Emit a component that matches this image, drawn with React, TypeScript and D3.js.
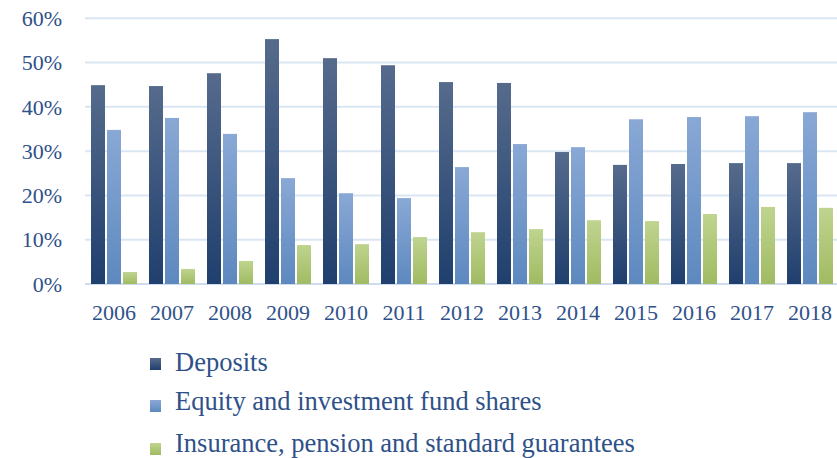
import React from "react";
import * as d3 from "d3";

const years = ["2006","2007","2008","2009","2010","2011","2012","2013","2014","2015","2016","2017","2018"];
const deposits = [44.9,44.7,47.6,55.3,51.0,49.4,45.6,45.4,29.8,26.9,27.1,27.3,27.3];
const equity = [34.8,37.5,33.9,23.9,20.5,19.4,26.4,31.6,30.9,37.2,37.7,37.9,38.8];
const insurance = [2.7,3.4,5.2,8.8,9.0,10.6,11.7,12.4,14.4,14.2,15.8,17.4,17.2];
const seriesNames = ["Deposits","Equity and investment fund shares","Insurance, pension and standard guarantees"];
const yTicks = [0,10,20,30,40,50,60];

const gradients = [
  { id: "gDep", top: "#566b8c", bottom: "#1f3f6d" },
  { id: "gEq", top: "#89a8d5", bottom: "#5d89bf" },
  { id: "gIns", top: "#bfd48f", bottom: "#a0bb62" },
];

export default function App() {
  const W = 837, H = 458;
  const left = 85, right = 839, top = 18.3, bottom = 284;
  const x = d3.scaleBand<string>().domain(years).range([left, right]).paddingInner(12 / 58).paddingOuter(6 / 58);
  const xs = d3.scaleBand<number>().domain([0, 1, 2]).range([0, x.bandwidth()]).paddingInner(2 / 16).paddingOuter(0);
  const y = d3.scaleLinear().domain([0, 60]).range([bottom, top]);
  const series = [deposits, equity, insurance];
  const textColor = "#2f5189";
  const font = "'Liberation Serif', 'Times New Roman', serif";
  const legendBase = [371, 410, 452];
  const legendSq = [358, 400, 443];

  return (
    <svg width={W} height={H} style={{ position: "absolute", left: 0, top: 0 }}>
      <defs>
        {gradients.map(g => (
          <linearGradient key={g.id} id={g.id} x1="0" y1="0" x2="0" y2="1">
            <stop offset="0" stopColor={g.top} />
            <stop offset="1" stopColor={g.bottom} />
          </linearGradient>
        ))}
      </defs>
      <rect x={0} y={0} width={W} height={H} fill="#fff" />
      {yTicks.map(t => (
        <g key={t}>
          <line x1={left} x2={W} y1={y(t)} y2={y(t)} stroke={t === 0 ? "#cfdbee" : "#dbe6f4"} strokeWidth={2} />
          <text x={62} y={y(t)} dy="0.35em" textAnchor="end" fontFamily={font} fontSize={22} fill={textColor}>{t}%</text>
        </g>
      ))}
      {years.map((yr, i) => (
        <g key={yr} transform={`translate(${x(yr)},0)`}>
          {series.map((s, k) => (
            <rect key={k} x={xs(k)} y={y(s[i])} width={xs.bandwidth()} height={y(0) - y(s[i])} fill={`url(#${gradients[k].id})`} />
          ))}
          <text x={x.bandwidth() / 2} y={320} textAnchor="middle" fontFamily={font} fontSize={22} fill={textColor}>{yr}</text>
        </g>
      ))}
      {seriesNames.map((n, k) => (
        <g key={n}>
          <rect x={150} y={legendSq[k]} width={11} height={12} fill={`url(#${gradients[k].id})`} />
          <text x={175} y={legendBase[k]} fontFamily={font} fontSize={26.5} fill={textColor}>{n}</text>
        </g>
      ))}
    </svg>
  );
}
